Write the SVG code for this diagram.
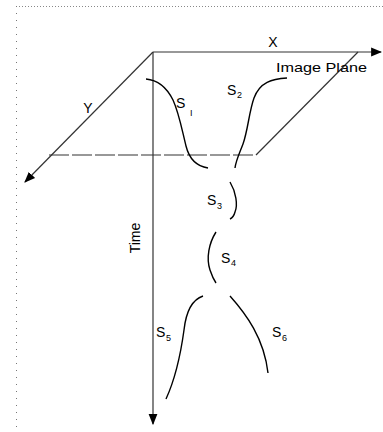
<svg xmlns="http://www.w3.org/2000/svg" width="383" height="432" viewBox="0 0 383 432">
<style>
.ax{stroke:#333;stroke-width:1.2;fill:none}
.cv{stroke:#000;stroke-width:1.4;fill:none}
.t{font-family:"Liberation Sans",Arial,sans-serif;fill:#000}
.s{font-size:14px}
.sub{font-size:9px}
</style>
<defs>
<marker id="ah" viewBox="0 0 10 10" refX="9" refY="5" markerWidth="11" markerHeight="11" markerUnits="userSpaceOnUse" orient="auto">
<path d="M0,1 L10,5 L0,9 Z" fill="#000"/>
</marker>
</defs>
<rect width="383" height="432" fill="#fff"/>
<g id="frame">
<line x1="16" y1="6.5" x2="383" y2="6.5" stroke="#888" stroke-dasharray="1,2"/>
<line x1="16.5" y1="6" x2="16.5" y2="432" stroke="#777" stroke-dasharray="1,6"/>
</g>
<g id="connectors">
<line id="x-axis" class="ax" x1="153" y1="52" x2="381" y2="52" marker-end="url(#ah)"/>
<line id="y-axis" class="ax" x1="153" y1="52" x2="25" y2="182" marker-end="url(#ah)"/>
<line id="time-axis" class="ax" stroke="#666" x1="153" y1="52" x2="153" y2="424" marker-end="url(#ah)"/>
<line id="plane-bottom" class="ax" stroke="#444" x1="49" y1="155" x2="256" y2="155" stroke-dasharray="20,3"/>
<line id="plane-right" class="ax" x1="256" y1="155" x2="358" y2="52"/>
</g>
<g id="S1">
<path class="cv" d="M146,79 C158,80 167,88 173,100 C179,113 182,130 186,146 C189,158 195,166 208,168"/>
<text class="t s" x="176" y="108">S</text><text class="t sub" x="190" y="116">I</text>
</g>
<g id="S2">
<path class="cv" d="M287,78 C272,79 260,82 254,98 C249,112 248,130 243,144 C240,152 236,160 235,168"/>
<text class="t s" x="227" y="95">S</text><text class="t sub" x="237" y="98">2</text>
</g>
<g id="S3">
<path class="cv" d="M230,182 C236,192 238,205 235,212 C234,216 232,218 230,219"/>
<text class="t s" x="207" y="205">S</text><text class="t sub" x="217" y="209">3</text>
</g>
<g id="S4">
<path class="cv" d="M216,232 C209,243 206,258 210,270 C212,276 214,280 216,283"/>
<text class="t s" x="221" y="263">S</text><text class="t sub" x="231" y="266">4</text>
</g>
<g id="S5">
<path class="cv" d="M203,296 C191,300 186,312 184,330 C181,352 177,375 166,399"/>
<text class="t s" x="156" y="337">S</text><text class="t sub" x="166" y="341">5</text>
</g>
<g id="S6">
<path class="cv" d="M230,296 C246,314 264,338 268,373"/>
<text class="t s" x="272" y="337">S</text><text class="t sub" x="282" y="341">6</text>
</g>
<g id="labels">
<text class="t" font-size="14" x="273" y="47" text-anchor="middle">X</text>
<text class="t" font-size="14" x="88" y="113" text-anchor="middle">Y</text>
<text class="t" font-size="13" x="276" y="72" textLength="91" lengthAdjust="spacingAndGlyphs">Image Plane</text>
<text class="t" font-size="14" x="0" y="0" text-anchor="middle" transform="translate(140,238) rotate(-90)">Time</text>
</g>
</svg>
